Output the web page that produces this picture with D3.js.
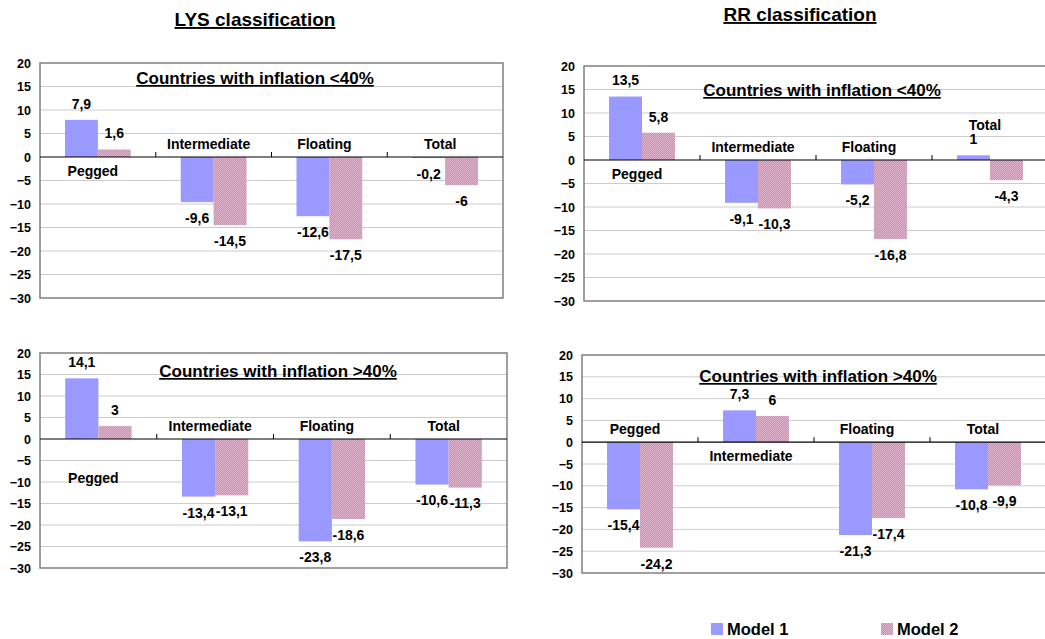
<!DOCTYPE html>
<html lang="en">
<head>
  <meta charset="UTF-8" />
  <title>LYS / RR classification</title>
  <script src="https://unpkg.com/d3@7/dist/d3.min.js"></script>
  <style>
    body {
      margin: 0;
      background: #ffffff;
      font-family: Arial, "Liberation Sans", sans-serif;
    }
    svg { display: block; }
    .axis text {
      font-size: 12.5px;
      font-weight: bold;
      fill: #000;
    }
    .axis path { display: none; }
    .lbl {
      font-weight: bold;
      fill: #000;
    }
  </style>
</head>
<body>
  <svg id="chart" width="1045" height="639"></svg>

  <script>
  // categories and series
  const categories = ["Pegged", "Intermediate", "Floating", "Total"];
  const models     = ["Model 1", "Model 2"];
  const yTicks     = [20, 15, 10, 5, 0, -5, -10, -15, -20, -25, -30];

  // LYS classification
  const lysLowModel1  = [7.9, -9.6, -12.6, -0.2];
  const lysLowModel2  = [1.6, -14.5, -17.5, -6];
  const lysHighModel1 = [14.1, -13.4, -23.8, -10.6];
  const lysHighModel2 = [3, -13.1, -18.6, -11.3];

  // RR classification
  const rrLowModel1  = [13.5, -9.1, -5.2, 1];
  const rrLowModel2  = [5.8, -10.3, -16.8, -4.3];
  const rrHighModel1 = [-15.4, 7.3, -21.3, -10.8];
  const rrHighModel2 = [-24.2, 6, -17.4, -9.9];

  const titleLow  = "Countries with inflation <40%";
  const titleHigh = "Countries with inflation >40%";

  const colors = { "Model 1": "#9999ff", "Model 2": "url(#hatch)" };

  const svg = d3.select("#chart");

  // fine hatched fill for model 2
  const defs = svg.append("defs");
  const pat = defs.append("pattern")
      .attr("id", "hatch")
      .attr("patternUnits", "userSpaceOnUse")
      .attr("width", 2).attr("height", 2);
  pat.append("rect").attr("width", 2).attr("height", 2).attr("fill", "#dcb0c8");
  pat.append("path")
      .attr("d", "M0,2 L2,0 M-1,1 L1,-1 M1,3 L3,1")
      .attr("stroke", "#c28aa8")
      .attr("stroke-width", 0.7);

  // column headers
  svg.append("text").attr("class", "lbl")
      .attr("x", 255).attr("y", 26)
      .attr("text-anchor", "middle")
      .style("font-size", "19px")
      .style("text-decoration", "underline")
      .text("LYS classification");
  svg.append("text").attr("class", "lbl")
      .attr("x", 800).attr("y", 21)
      .attr("text-anchor", "middle")
      .style("font-size", "19px")
      .style("text-decoration", "underline")
      .text("RR classification");

  const panels = [
    { m1: lysLowModel1,  m2: lysLowModel2,  title: titleLow,
      box: { l: 40,  r: 503,  t: 63,  b: 298 }, titleX: 255, titleY: 84, catDy: {} },
    { m1: rrLowModel1,   m2: rrLowModel2,   title: titleLow,
      box: { l: 584, r: 1048, t: 66,  b: 301 }, titleX: 822, titleY: 96, catDy: { Total: -35 } },
    { m1: lysHighModel1, m2: lysHighModel2, title: titleHigh,
      box: { l: 40,  r: 507,  t: 353, b: 568 }, titleX: 278, titleY: 377, catDy: { Pegged: 39 } },
    { m1: rrHighModel1,  m2: rrHighModel2,  title: titleHigh,
      box: { l: 582, r: 1046, t: 355, b: 573 }, titleX: 818, titleY: 382, catDy: {} }
  ];

  const fmt = v => String(v).replace(".", ",");

  panels.forEach(p => {
    const { l, r, t, b } = p.box;
    const g = svg.append("g");

    const y = d3.scaleLinear().domain([-30, 20]).range([b, t]);
    const x0 = d3.scaleBand().domain(categories).range([l, r]).padding(0);
    const x1 = d3.scaleBand().domain(models).range([0, x0.bandwidth()])
      .paddingInner(0).paddingOuter(0.76);

    // plot background and grid
    g.append("rect")
      .attr("x", l).attr("y", t).attr("width", r - l).attr("height", b - t)
      .attr("fill", "#fff");
    g.selectAll(".grid")
      .data(yTicks.filter(d => d !== 20 && d !== -30 && d !== 0))
      .join("line")
        .attr("x1", l).attr("x2", r)
        .attr("y1", d => y(d)).attr("y2", d => y(d))
        .attr("stroke", "#cccccc").attr("stroke-width", 1);
    g.append("rect")
      .attr("x", l).attr("y", t).attr("width", r - l).attr("height", b - t)
      .attr("fill", "none").attr("stroke", "#808080").attr("stroke-width", 1.5);

    // y axis labels
    g.append("g")
      .attr("class", "axis")
      .attr("transform", `translate(${l},0)`)
      .call(d3.axisLeft(y).tickValues(yTicks).tickSize(0).tickPadding(9)
        .tickFormat(d3.format("d")));

    const rows = categories.map((c, i) => ({ cat: c, vals: [p.m1[i], p.m2[i]] }));
    const bars = rows.flatMap(row => row.vals.map((v, j) => ({ cat: row.cat, model: models[j], v })));

    // bars
    g.selectAll(".bar")
      .data(bars)
      .join("rect")
        .attr("x", d => x0(d.cat) + x1(d.model))
        .attr("width", x1.bandwidth())
        .attr("y", d => y(Math.max(0, d.v)))
        .attr("height", d => Math.abs(y(d.v) - y(0)))
        .attr("fill", d => colors[d.model]);

    // zero line and category ticks
    g.append("line")
      .attr("x1", l).attr("x2", r)
      .attr("y1", y(0)).attr("y2", y(0))
      .attr("stroke", "#000").attr("stroke-width", 1.2);
    g.selectAll(".ctick")
      .data(categories.slice(1))
      .join("line")
        .attr("x1", d => x0(d)).attr("x2", d => x0(d))
        .attr("y1", y(0)).attr("y2", y(0) - 5)
        .attr("stroke", "#000");

    // value labels
    g.selectAll(".val")
      .data(bars)
      .join("text")
        .attr("class", "lbl")
        .attr("x", d => x0(d.cat) + x1(d.model) + x1.bandwidth() / 2)
        .attr("y", d => d.v >= 0 ? y(d.v) - 16 : y(d.v) + 16)
        .attr("dy", "0.35em")
        .attr("text-anchor", "middle")
        .style("font-size", "14px")
        .text(d => fmt(d.v));

    // category labels: below the axis when the group is positive, above otherwise
    g.selectAll(".cat")
      .data(rows)
      .join("text")
        .attr("class", "lbl")
        .attr("x", d => x0(d.cat) + x0.bandwidth() / 2 - 5)
        .attr("y", d => {
          const dy = p.catDy[d.cat] ?? (d3.min(d.vals) >= 0 ? 14 : -13);
          return y(0) + dy;
        })
        .attr("dy", "0.35em")
        .attr("text-anchor", "middle")
        .style("font-size", "14px")
        .text(d => d.cat);

    // panel title
    g.append("text")
      .attr("class", "lbl")
      .attr("x", p.titleX).attr("y", p.titleY)
      .attr("text-anchor", "middle")
      .style("font-size", "17px")
      .style("text-decoration", "underline")
      .text(p.title);
  });

  // legend
  const legend = svg.append("g").attr("transform", "translate(711,623)");
  models.forEach((m, i) => {
    const lg = legend.append("g").attr("transform", `translate(${i * 170},0)`);
    lg.append("rect").attr("width", 12).attr("height", 12).attr("fill", colors[m]);
    lg.append("text")
      .attr("class", "lbl")
      .attr("x", 16).attr("y", 6)
      .attr("dy", "0.36em")
      .style("font-size", "16.5px")
      .text(m);
  });
  </script>
</body>
</html>
